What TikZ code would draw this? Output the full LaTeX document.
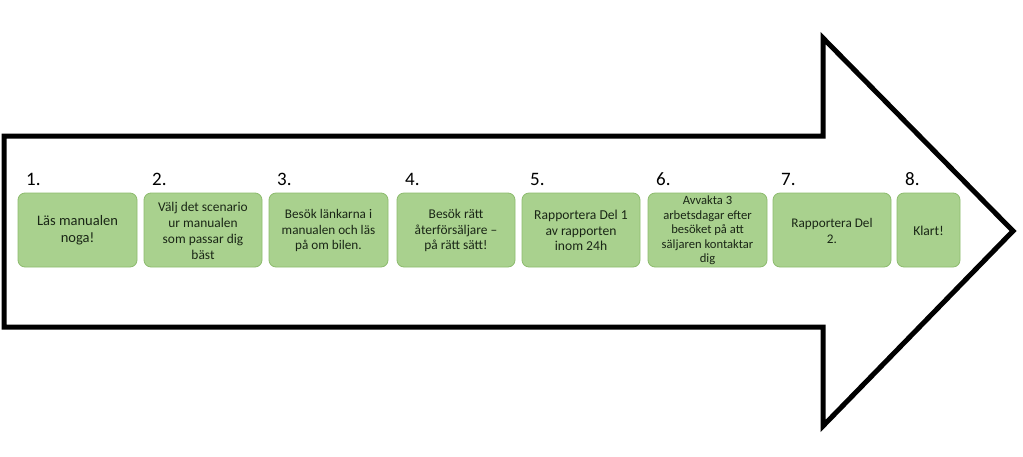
\documentclass[tikz,border=0pt]{standalone}
\usepackage{fontspec}
\setmainfont{Carlito}
\definecolor{boxfill}{HTML}{A9D18E}
\definecolor{boxline}{HTML}{8DBB6E}
\definecolor{txt}{HTML}{1A2616}
\begin{document}
\begin{tikzpicture}[x=1pt,y=-1pt,
  stepbox/.style={draw=boxline, fill=boxfill, rounded corners=7pt, line width=0.8pt},
  steptext/.style={text=txt, align=center, inner sep=0pt},
  numlabel/.style={anchor=base west, font=\fontsize{19}{22}\selectfont, inner sep=0pt}]
\useasboundingbox (0,0) rectangle (1023,456);
\fill[white] (0,0) rectangle (1023,456);
\draw[line width=5pt, line join=miter] (4,136) -- (823,136) -- (823,38) -- (1013,231) -- (823,426) -- (823,327) -- (4,327) -- cycle;
\foreach \i/\xa/\xb/\fs/\ls/\t in {1/18/137/14.5/17/{Läs manualen\\noga!},
  2/144/262/13.4/16/{Välj det scenario\\ur manualen\\som passar dig\\bäst},
  3/269/388/13.2/15.5/{Besök länkarna i\\manualen och läs\\på om bilen.},
  4/397/515/13.4/15.5/{Besök rätt\\återförsäljare –\\på rätt sätt!},
  5/522/640/13.6/15.5/{Rapportera Del 1\\av rapporten\\inom 24h},
  6/648/767/12.6/14.5/{Avvakta 3\\arbetsdagar efter\\besöket på att\\säljaren kontaktar\\dig},
  7/773/891/13.2/16/{Rapportera Del\\2.},
  8/897/960/13.6/16/{Klart!}} {
  \path[stepbox] (\xa,193) rectangle (\xb,267);
  \node[steptext, font=\fontsize{\fs}{\ls}\selectfont] (b\i) at ({(\xa+\xb)/2},230.5) {\t};
  \node[numlabel] (n\i) at (\xa+8,185) {\i.};
}
\end{tikzpicture}
\end{document}
